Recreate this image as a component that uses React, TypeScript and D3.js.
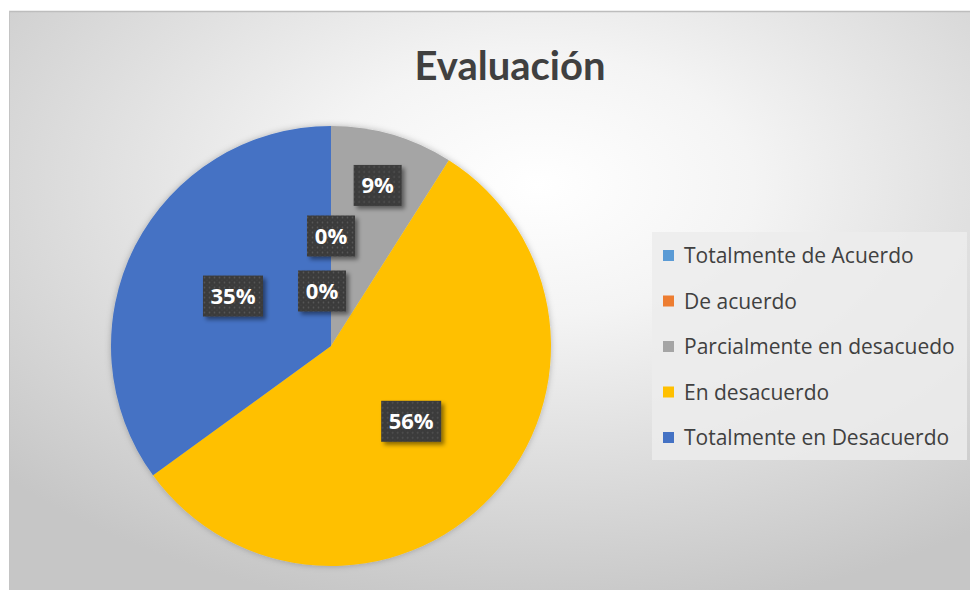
import React from "react";
import * as d3 from "d3";

const categories = [
  "Totalmente de Acuerdo",
  "De acuerdo",
  "Parcialmente en desacuedo",
  "En desacuerdo",
  "Totalmente en Desacuerdo",
];
const values = [0, 0, 9, 56, 35];
const colors = ["#5B9BD5", "#ED7D31", "#A5A5A5", "#FFC000", "#4472C4"];
const title = "Evaluación";

const W = 970;
const H = 590;

export default function App() {
  const cx = 331;
  const cy = 346;
  const r = 220;
  const total = d3.sum(values);
  const pie = d3
    .pie<number>()
    .sort(null)
    .value((d) => d)
    .startAngle(0)
    .endAngle(2 * Math.PI);
  const arcs = pie(values);
  const arcGen = d3.arc<d3.PieArcDatum<number>>().innerRadius(0).outerRadius(r);

  let zeroCount = 0;
  const labels = arcs.map((a, i) => {
    const frac = a.value / total;
    let k: number;
    let dx = 0;
    if (a.value === 0) {
      k = zeroCount === 0 ? 0.5 : 0.25;
      dx = zeroCount === 0 ? 0 : -9;
      zeroCount++;
    } else if (frac < 0.15) {
      k = 0.76;
    } else {
      k = 0.5;
    }
    const lr = r * k;
    const c = d3.arc<d3.PieArcDatum<number>>().innerRadius(lr).outerRadius(lr).centroid(a);
    const text = `${Math.round(frac * 100)}%`;
    return { x: c[0] + dx, y: c[1], text, i };
  });

  const legendX = 652;
  const legendY = 232;
  const legendW = 315;
  const legendH = 228;
  const legendStep = 45.5;

  return (
    <svg
      width={W}
      height={H}
      style={{ position: "absolute", left: 0, top: 0 }}
      fontFamily="Lato, 'Open Sans', sans-serif"
    >
      <defs>
        <radialGradient id="bg" cx="0.55" cy="0.3" r="0.75">
          <stop offset="0" stopColor="#ffffff" />
          <stop offset="0.3" stopColor="#f4f4f4" />
          <stop offset="1" stopColor="#c6c6c6" />
        </radialGradient>
        <pattern id="dots" width="5" height="5" patternUnits="userSpaceOnUse">
          <rect width="5" height="5" fill="#3a3a3a" />
          <circle cx="1.5" cy="1.5" r="0.9" fill="#565656" />
          <circle cx="4" cy="4" r="0.6" fill="#4a4a4a" />
        </pattern>
        <filter id="lblShadow" x="-30%" y="-30%" width="160%" height="160%">
          <feDropShadow dx="3" dy="3" stdDeviation="2" floodColor="#000" floodOpacity="0.45" />
        </filter>
        <filter id="pieShadow" x="-10%" y="-10%" width="120%" height="120%">
          <feDropShadow dx="0" dy="0" stdDeviation="3" floodColor="#000" floodOpacity="0.25" />
        </filter>
      </defs>
      <rect x={0} y={0} width={W} height={H} fill="#ffffff" />
      <rect x={9} y={11} width={W - 9} height={H - 11} fill="url(#bg)" />
      <line x1={9} y1={11.5} x2={W} y2={11.5} stroke="#bdbdbd" strokeWidth={1.5} />
      <line x1={9.5} y1={11} x2={9.5} y2={H} stroke="#c4c4c4" strokeWidth={1} />

      <text
        x={510}
        y={80}
        textAnchor="middle"
        fontSize={40}
        fontWeight="bold"
        fill="#404040"
      >
        {title}
      </text>

      <g transform={`translate(${cx},${cy})`} filter="url(#pieShadow)">
        {arcs.map((a, i) => (
          <path key={i} d={arcGen(a) || ""} fill={colors[i]} />
        ))}
      </g>

      <g transform={`translate(${cx},${cy})`}>
        {labels.map((l) => {
          const bw = 12 * (l.text.length + 2);
          const bh = 41;
          return (
            <g key={l.i} transform={`translate(${l.x},${l.y})`}>
              <rect
                x={-bw / 2}
                y={-bh / 2}
                width={bw}
                height={bh}
                fill="url(#dots)"
                filter="url(#lblShadow)"
              />
              <text
                textAnchor="middle"
                dy="0.36em"
                fontSize={22}
                fontWeight="bold"
                fontFamily="'Open Sans', Lato, sans-serif"
                fill="#ffffff"
              >
                {l.text}
              </text>
            </g>
          );
        })}
      </g>

      <g>
        <rect x={legendX} y={legendY} width={legendW} height={legendH} fill="#ececec" opacity={0.85} />
        {categories.map((c, i) => {
          const y = legendY + 24 + i * legendStep;
          return (
            <g key={c}>
              <rect x={legendX + 11} y={y - 6} width={11} height={11} fill={colors[i]} />
              <text
                x={legendX + 32}
                y={y}
                dy="0.35em"
                fontSize={21}
                fontFamily="'Open Sans', Lato, sans-serif"
                fill="#404040"
              >
                {c}
              </text>
            </g>
          );
        })}
      </g>
    </svg>
  );
}
